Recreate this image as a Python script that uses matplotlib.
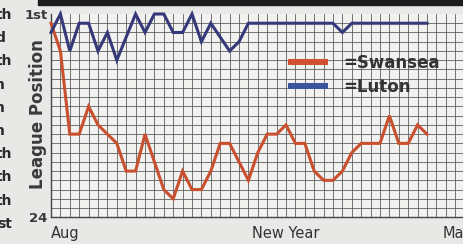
import matplotlib
matplotlib.use('Agg')
import matplotlib.pyplot as plt
import numpy as np
from matplotlib.patches import Rectangle

# league position after each match, Aug onwards
swansea = [2, 5, 14, 14, 11, 13, 14, 15, 18, 18, 14, 17, 20, 21, 18, 20, 20, 18, 15, 15, 17,
           19, 16, 14, 14, 13, 15, 15, 18, 19, 19, 18, 16, 15, 15, 15, 12, 15, 15, 13, 14]
luton = [3, 1, 5, 2, 2, 5, 3, 6, 3.5, 1, 3, 1, 1, 3, 3, 1, 4, 2, 3.5, 5, 4,
         2, 2, 2, 2, 2, 2, 2, 2, 2, 2, 3, 2, 2, 2, 2, 2, 2, 2, 2, 2]
month_ticks = [0, 21.4, 41.7]
month_labels = ['Aug', 'New Year', 'Mar']
left_fragments = ['th', 'd', 'th', 'n', 'n', 'n', 'th', 'th', 'th', 'st']
fragment_right = [12, 5, 12, 4.5, 4.5, 4.5, 12, 12, 12, 12]

W, H = 464, 244
fig = plt.figure(figsize=(W / 100, H / 100), dpi=100, facecolor='#e8e8e6')
ax = fig.add_axes([51 / W, 26.7 / H, 1 - 51 / W, 203.3 / H])
ax.set_facecolor('#f1f1ef')

x = np.arange(len(swansea))
ax.plot(x, swansea, color='#c9502f', lw=2.2, solid_joinstyle='miter', label='=Swansea', clip_on=False, zorder=3)
ax.plot(x, luton, color='#35397a', lw=2.2, solid_joinstyle='miter', label='=Luton', clip_on=False, zorder=4)

ax.set_xlim(0, (W - 51) / 9.4)
# the printed chart has 22 rows between "1st" and "24"
ax.set_ylim(23, 1)
ax.set_xticks(np.arange(0, 44), minor=True)
ax.set_yticks(np.arange(1, 24), minor=True)
ax.grid(which='minor', color='#5f5f5f', lw=0.6)
ax.set_axisbelow(True)
ax.tick_params(which='both', length=0)

ax.set_yticks([1, 23])
ax.set_yticklabels(['1st', '24'], fontsize=9.5, fontweight='bold', color='#3a3a3a')
ax.tick_params(axis='y', pad=2.5)
ax.set_xticks(month_ticks)
ax.set_xticklabels(month_labels, fontsize=10.5, color='#333333', ha='left')
ax.tick_params(axis='x', pad=6)

for s in ['top', 'right']:
    ax.spines[s].set_visible(False)
for s in ['left', 'bottom']:
    ax.spines[s].set_color('#444444')
    ax.spines[s].set_linewidth(1.0)

fig.text(38.5 / W, 1 - 114 / H, 'League Position', rotation=90, ha='center', va='center',
         fontsize=12, fontweight='bold', color='#3a3a3a')

leg = ax.legend(loc='upper left', bbox_to_anchor=(288 / W, 1 - 54 / H), bbox_transform=fig.transFigure,
                frameon=False, fontsize=12, prop={'weight': 'bold', 'size': 12},
                handlelength=2.4, handletextpad=0.9, labelspacing=0.35, borderpad=0, borderaxespad=0)
for h, c in zip(leg.legend_handles, ['#d0502f', '#3a55a0']):
    h.set_color(c)
    h.set_linewidth(4.3)
    h.set_solid_capstyle('butt')
for t in leg.get_texts():
    t.set_color('#333333')

# black title bar cut off at the top
fig.patches.append(Rectangle((38 / W, 1 - 5 / H), 1, 5 / H, transform=fig.transFigure,
                             color='#1c1c1c', zorder=5))

for i, (frag, xr) in enumerate(zip(left_fragments, fragment_right)):
    fig.text(xr / W, 1 - (15 + 23.2 * i) / H, frag, ha='right', va='center',
             fontsize=10, fontweight='bold', color='#2a2a2a')

fig.savefig('out.png', dpi=100, facecolor=fig.get_facecolor())
